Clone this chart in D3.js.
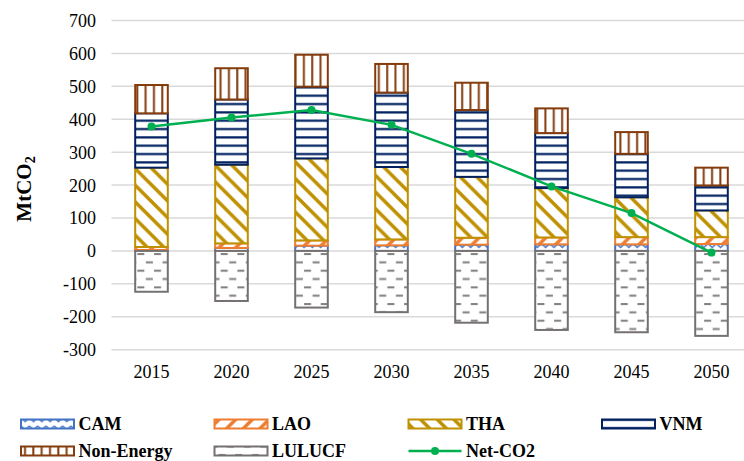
<!DOCTYPE html>
<html>
<head>
<meta charset="utf-8">
<script src="https://cdn.jsdelivr.net/npm/d3@7/dist/d3.min.js"></script>
<style>
  html, body { margin: 0; padding: 0; background: #fff; }
  svg { display: block; }
  svg text { font-family: "Liberation Serif", "Times New Roman", Times, serif !important; }
</style>
</head>
<body>
<svg id="chart" width="744" height="461" font-family="Liberation Serif"></svg>
<script>
// ---------- DATA ----------
const years = ["2015", "2020", "2025", "2030", "2035", "2040", "2045", "2050"];
const CAM        = [3, 9, 16, 17, 19, 20, 20, 21];
const LAO        = [9, 14, 16, 18, 21, 21, 22, 21];
const THA        = [241, 239, 249, 220, 185, 150, 121, 81];
const VNM        = [165, 198, 218, 226, 203, 167, 132, 76];
const NonEnergy  = [86, 95, 97, 87, 83, 75, 66, 54];
const LULUCF     = [-124, -152, -172, -186, -218, -240, -247, -258];
const NetCO2     = [378, 405, 428, 383, 295, 196, 115, -5];
const yTicks     = [-300, -200, -100, 0, 100, 200, 300, 400, 500, 600, 700];

const seriesKeys = ["CAM", "LAO", "THA", "VNM", "Non-Energy", "LULUCF"];
const seriesData = { "CAM": CAM, "LAO": LAO, "THA": THA, "VNM": VNM, "Non-Energy": NonEnergy, "LULUCF": LULUCF };

const table = years.map((y, i) => {
  const row = { year: y };
  seriesKeys.forEach(k => row[k] = seriesData[k][i]);
  return row;
});

// ---------- STYLE ----------
const FONT = "'Liberation Serif', 'Times New Roman', Times, serif";
const colors = {
  "CAM": "#4472C4", "LAO": "#ED7D31", "THA": "#BF9000", "VNM": "#002060",
  "Non-Energy": "#843C0C", "LULUCF": "#767171", "Net-CO2": "#00B050"
};
const patId = { "CAM": "pCAM", "LAO": "pLAO", "THA": "pTHA", "VNM": "pVNM", "Non-Energy": "pNE", "LULUCF": "pLUL" };

const svg = d3.select("#chart");
const defs = svg.append("defs");

function pattern(id, w, h) {
  const p = defs.append("pattern").attr("id", id).attr("patternUnits", "userSpaceOnUse")
    .attr("width", w).attr("height", h);
  p.append("rect").attr("width", w).attr("height", h).attr("fill", "#fff");
  return p;
}
const P = 8.33, P2 = 16.67;
// CAM zigzag
pattern("pCAM", P, P).append("path").attr("d", `M0,2 L${P/2},6 L${P},2`)
  .attr("fill", "none").attr("stroke", colors.CAM).attr("stroke-width", 1.5);
// LAO wide upward diagonal
pattern("pLAO", P2, P2).append("path")
  .attr("d", `M-4,${P2+4} L${P2+4},-4 M-4,4 L4,-4 M${P2-4},${P2+4} L${P2+4},${P2-4}`)
  .attr("stroke", colors.LAO).attr("stroke-width", 3.5);
// THA wide downward diagonal
pattern("pTHA", P2, P2).append("path")
  .attr("d", `M-4,-4 L${P2+4},${P2+4} M-4,${P2-4} L4,${P2+4} M${P2-4},-4 L${P2+4},4`)
  .attr("stroke", colors.THA).attr("stroke-width", 3.5);
// VNM narrow horizontal
pattern("pVNM", P, P).append("rect").attr("x", 0).attr("y", 3).attr("width", P).attr("height", 2.2)
  .attr("fill", colors.VNM);
// Non-Energy narrow vertical
pattern("pNE", P, P).append("rect").attr("x", 3).attr("y", 0).attr("width", 2).attr("height", P)
  .attr("fill", colors["Non-Energy"]);
// LULUCF dashed horizontal
{
  const p = pattern("pLUL", P2, P2);
  p.append("rect").attr("x", 4).attr("y", 3).attr("width", 7).attr("height", 2).attr("fill", "#7F7F7F");
  p.append("rect").attr("x", 12.5).attr("y", 11.3).attr("width", 7).attr("height", 2).attr("fill", "#7F7F7F");
  p.append("rect").attr("x", -4.17).attr("y", 11.3).attr("width", 7).attr("height", 2).attr("fill", "#7F7F7F");
}

// ---------- SCALES ----------
const x = d3.scaleBand().domain(years).range([111.5, 751.5]).paddingInner(0.5925).paddingOuter(0.29625);
const y = d3.scaleLinear().domain([-300, 700]).range([349.7, 20.5]);

// gridlines
svg.append("g").selectAll("line").data(yTicks).join("line")
  .attr("x1", 111.5).attr("x2", 751.5)
  .attr("y1", d => y(d)).attr("y2", d => y(d))
  .attr("stroke", "#D9D9D9").attr("stroke-width", 1.5);

// y axis (labels only)
const yAxis = d3.axisLeft(y).tickValues(yTicks).tickSize(0).tickPadding(0).tickFormat(d => String(d));
const gy = svg.append("g").attr("transform", "translate(96,0)").call(yAxis)
  .attr("font-family", FONT).attr("font-size", 18);
gy.select(".domain").remove();
gy.selectAll("text").attr("fill", "#000").attr("dy", "0.33em");

// x axis (labels only)
const xAxis = d3.axisBottom(x).tickSize(0).tickPadding(0);
const gx = svg.append("g").attr("transform", "translate(0,364)").call(xAxis)
  .attr("font-family", FONT).attr("font-size", 18);
gx.select(".domain").remove();
gx.selectAll("text").attr("fill", "#000").attr("dy", "0.75em");

// y title
const yt = svg.append("text").attr("transform", "translate(31,189) rotate(-90)")
  .attr("font-family", FONT)
  .attr("text-anchor", "middle").attr("font-weight", "bold").attr("font-size", 21).attr("fill", "#000");
yt.append("tspan").text("MtCO");
yt.append("tspan").text("2").attr("font-size", 14).attr("baseline-shift", "-25%");

// ---------- BARS ----------
const stack = d3.stack().keys(seriesKeys).offset(d3.stackOffsetDiverging);
const stacked = stack(table);
const bars = svg.append("g");
stacked.forEach(s => {
  bars.append("g").selectAll("rect").data(s).join("rect")
    .attr("x", d => x(d.data.year))
    .attr("width", x.bandwidth())
    .attr("y", d => y(Math.max(d[0], d[1])))
    .attr("height", d => Math.abs(y(d[0]) - y(d[1])))
    .attr("fill", `url(#${patId[s.key]})`)
    .attr("stroke", colors[s.key]).attr("stroke-width", 2);
});

// ---------- LINE ----------
const cx = d => x(d) + x.bandwidth() / 2;
const line = d3.line().x((d, i) => cx(years[i])).y(d => y(d));
svg.append("path").datum(NetCO2).attr("d", line).attr("fill", "none")
  .attr("stroke", colors["Net-CO2"]).attr("stroke-width", 2.5);
svg.append("g").selectAll("circle").data(NetCO2).join("circle")
  .attr("cx", (d, i) => cx(years[i])).attr("cy", d => y(d)).attr("r", 4)
  .attr("fill", colors["Net-CO2"]);

// ---------- LEGEND ----------
const legendItems = [
  { key: "CAM", col: 0, row: 0 }, { key: "LAO", col: 1, row: 0 },
  { key: "THA", col: 2, row: 0 }, { key: "VNM", col: 3, row: 0 },
  { key: "Non-Energy", col: 0, row: 1 }, { key: "LULUCF", col: 1, row: 1 },
  { key: "Net-CO2", col: 2, row: 1 }
];
const colX = [21, 214.5, 408.5, 602];
const rowY = [424, 451];
const lg = svg.append("g").attr("font-family", FONT);
legendItems.forEach(it => {
  const gx0 = colX[it.col], gy0 = rowY[it.row];
  const g = lg.append("g").attr("transform", `translate(${gx0},${gy0})`);
  if (it.key === "Net-CO2") {
    g.append("line").attr("x1", 0).attr("x2", 53).attr("y1", 0).attr("y2", 0)
      .attr("stroke", colors[it.key]).attr("stroke-width", 2.5);
    g.append("circle").attr("cx", 26.5).attr("cy", 0).attr("r", 4).attr("fill", colors[it.key]);
  } else {
    g.append("rect").attr("x", 0).attr("y", -4.5).attr("width", 53).attr("height", 9)
      .attr("fill", `url(#${patId[it.key]})`).attr("stroke", colors[it.key]).attr("stroke-width", 2);
  }
  g.append("text").attr("x", 57.5).attr("y", 0).attr("dy", "0.35em")
    .attr("font-size", 18).attr("font-weight", "bold").attr("fill", "#000").text(it.key);
});
</script>
</body>
</html>
